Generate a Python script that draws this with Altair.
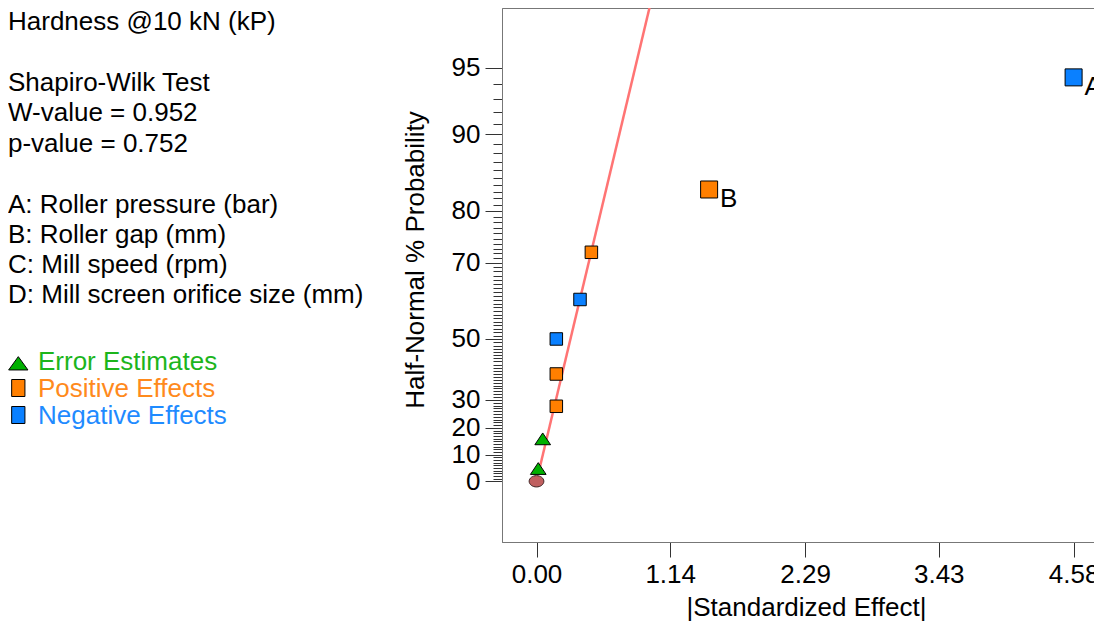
import altair as alt
import pandas as pd
from statistics import NormalDist

# ---------------- data ----------------
abs_effect = [0.015, 0.053, 0.169, 0.169, 0.169, 0.371, 0.468, 1.472, 4.58]
half_normal_pct = [5.56, 16.67, 27.78, 38.89, 50.0, 61.11, 72.22, 83.33, 94.44]
effect_type = ["Error", "Error", "Positive", "Positive", "Negative",
               "Negative", "Positive", "Positive", "Negative"]
effect_label = ["", "", "", "", "", "", "", "B", "A"]

origin_x = [0.0]
origin_pct = [0.0]

fit_x = [0.03, 1.106]
fit_pct = [5.56, 99.0]

x_tick_values = [0.00, 1.14, 2.29, 3.43, 4.58]
y_major_pct = [0, 10, 20, 30, 50, 70, 80, 90, 95]
y_minor_pct = list(range(0, 96))

title_lines = ["Hardness @10 kN (kP)"]
test_lines = ["Shapiro-Wilk Test", "W-value = 0.952", "p-value = 0.752"]
factor_lines = [
    "A: Roller pressure (bar)",
    "B: Roller gap (mm)",
    "C: Mill speed (rpm)",
    "D: Mill screen orifice size (mm)",
]
legend_labels = ["Error Estimates", "Positive Effects", "Negative Effects"]
legend_types = ["Error", "Positive", "Negative"]

# ---------------- styles ----------------
FONT = "Liberation Sans"
FS = 26
type_colors = {"Error": "#00b000", "Positive": "#ff7f00", "Negative": "#0a80ff"}
text_colors = {"Error": "#1cb51c", "Positive": "#ff8a1c", "Negative": "#1f8bff"}
TRI = "M-1,1.0L0,-0.5L1,1.0Z"
TRI_LEG = "M-1,0.69L0,-0.69L1,0.69Z"
RECT_LEG = "M-0.78,-1L0.78,-1L0.78,1L-0.78,1Z"
ELLIPSE = "M-1,0A1,0.77,0,1,0,1,0A1,0.77,0,1,0,-1,0Z"


def hn(p):
    """half-normal quantile for a percentage"""
    return NormalDist().inv_cdf(0.5 + p / 200.0)


df = pd.DataFrame({
    "x": abs_effect,
    "pct": half_normal_pct,
    "z": [hn(p) for p in half_normal_pct],
    "type": effect_type,
    "label": effect_label,
    "fill": [type_colors[t] for t in effect_type],
})
origin_df = pd.DataFrame({"x": origin_x, "z": [hn(p) for p in origin_pct]})
fit_df = pd.DataFrame({"x": fit_x, "z": [hn(p) for p in fit_pct]})
one = pd.DataFrame({"k": [0]})

W, H = 608, 534
xs = alt.Scale(domain=[-0.2942, 4.8904], nice=False, zero=False)
ys = alt.Scale(domain=[-0.2877, 2.243], nice=False, zero=False)

pct_expr = "round(200*cumulativeNormal(datum.value)-100)"
is_major = "indexof([%s], %s) >= 0" % (",".join(str(v) for v in y_major_pct), pct_expr)

x_axis = alt.Axis(
    values=x_tick_values, format=".2f", tickSize=15, labelPadding=25.5,
    labelBaseline="alphabetic", labelFlush=False, grid=False,
    title="|Standardized Effect|", titleY=73.5, titleBaseline="alphabetic",
)
y_axis = alt.Axis(
    values=[hn(p) for p in y_minor_pct],
    labelExpr="(%s) ? toString(%s) : ''" % (is_major, pct_expr),
    tickSize={"condition": {"test": is_major, "value": 17}, "value": 9},
    labelPadding=5, labelOverlap=False, labelFlush=False, labelBound=False,
    labelBaseline="middle", grid=False,
    title="Half-Normal % Probability", titleAngle=270, titleX=-78.7, titleY=251.5,
    titleBaseline="alphabetic", titleAlign="center",
)

X = alt.X("x:Q", scale=xs, axis=x_axis)
Y = alt.Y("z:Q", scale=ys, axis=y_axis)

fit = alt.Chart(fit_df).mark_line(clip=True, color="#ff7474", strokeWidth=2.5).encode(x=X, y=Y)

origin = alt.Chart(origin_df).mark_point(
    shape=ELLIPSE, size=216, filled=True, fill="#c06060", stroke="#3a2020",
    strokeWidth=1, opacity=1
).encode(x=X, y=Y)

errors = alt.Chart(df).transform_filter("datum.type == 'Error'").mark_point(
    shape=TRI, size=246, filled=True, stroke="black", strokeWidth=1, opacity=1
).encode(x=X, y=Y, fill=alt.Fill("fill:N", scale=None))

squares = alt.Chart(df).transform_filter("datum.type != 'Error'").mark_point(
    shape="square", filled=True, stroke="black", strokeWidth=1, opacity=1
).encode(
    x=X, y=Y, fill=alt.Fill("fill:N", scale=None),
    size=alt.condition("datum.label != ''", alt.value(289), alt.value(156)),
)

labels = alt.Chart(df).transform_filter("datum.label != ''").mark_text(
    align="left", baseline="alphabetic", dx=11, dy=17.7, font=FONT, fontSize=26, color="black"
).encode(x=X, y=Y, text="label:N")


def text_block(lines, y):
    return alt.Chart(one).mark_text(
        text=lines, align="left", baseline="alphabetic", font=FONT, fontSize=FS,
        lineHeight=30.3, color="black"
    ).encode(x=alt.value(-494), y=alt.value(y))


info = [text_block(title_lines, 22), text_block(test_lines, 83), text_block(factor_lines, 204.5)]

legend_layers = []
for i, (lab, t) in enumerate(zip(legend_labels, legend_types)):
    base_y = 362 + 27 * i
    if t == "Error":
        mk = alt.Chart(one).mark_point(
            shape=TRI_LEG, size=372, filled=True, fill=type_colors[t], stroke="black",
            strokeWidth=1, opacity=1
        ).encode(x=alt.value(-483.7), y=alt.value(base_y - 6.7))
    else:
        mk = alt.Chart(one).mark_point(
            shape=RECT_LEG, size=289, filled=True, fill=type_colors[t], stroke="black",
            strokeWidth=1, opacity=1
        ).encode(x=alt.value(-483.7), y=alt.value(base_y - 9))
    tx = alt.Chart(one).mark_text(
        text=lab, align="left", baseline="alphabetic", font=FONT, fontSize=FS,
        color=text_colors[t]
    ).encode(x=alt.value(-464), y=alt.value(base_y))
    legend_layers += [mk, tx]

chart = alt.layer(fit, origin, errors, squares, labels, *info, *legend_layers).properties(
    width=W, height=H,
    padding={"left": 494, "right": -16, "top": 0, "bottom": 79},
    autosize=alt.AutoSizeParams(type="none"),
).configure_view(
    stroke="#777777", strokeWidth=1
).configure_axis(
    labelFont=FONT, labelFontSize=FS, labelColor="black",
    titleFont=FONT, titleFontSize=FS, titleFontWeight="normal", titleColor="black",
    domainColor="#777777", domainWidth=1, tickColor="#333333", tickWidth=1,
)

chart.save("out.html", embed_options={"renderer": "svg", "actions": False})
